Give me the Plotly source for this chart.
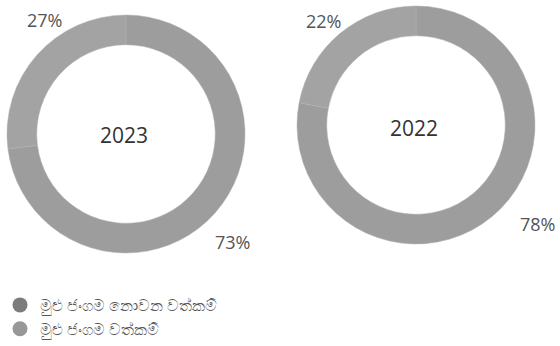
import plotly.graph_objects as go

years = ["2023", "2022"]
categories = ["මුළු ජංගම නොවන වත්කම්", "මුළු ජංගම වත්කම්"]
values_2023 = [73, 27]
values_2022 = [78, 22]
series = [values_2023, values_2022]
slice_colors = ["#9d9d9d", "#a3a3a3"]
legend_colors = ["#7c7c7c", "#979797"]

W, H = 560, 346
# pixel boxes of each donut (x0, x1, y_top, y_bottom)
boxes = [(7, 245, 15, 253), (297, 535, 6, 244)]
# label pixel positions for [big slice, small slice]
label_px = [[(232, 242), (44.5, 20)], [(537, 223.5), (323.5, 21)]]
center_px = [(123.5, 135), (413.5, 127.5)]
FONT = "Open Sans, Noto Sans, sans-serif"

fig = go.Figure()
for i, (yr, vals) in enumerate(zip(years, series)):
    x0, x1, t, b = boxes[i]
    fig.add_trace(go.Pie(
        labels=categories, values=vals, hole=0.75, sort=False,
        direction="clockwise", rotation=0,
        marker=dict(colors=slice_colors, line=dict(color="#b0b0b0", width=0.5)),
        textinfo="none", showlegend=False, hoverinfo="label+percent",
        domain=dict(x=[x0 / W, x1 / W], y=[1 - b / H, 1 - t / H]),
    ))
    for j, v in enumerate(vals):
        px, py = label_px[i][j]
        fig.add_annotation(x=px / W, y=1 - py / H, xref="paper", yref="paper",
                           xanchor="center", yanchor="middle",
                           text=f"{v}%", showarrow=False,
                           font=dict(size=18, color="#555555", family=FONT))
    cx, cy = center_px[i]
    fig.add_annotation(x=cx / W, y=1 - cy / H, xref="paper", yref="paper",
                       xanchor="center", yanchor="middle",
                       text=yr, showarrow=False,
                       font=dict(size=21, color="#333333", family=FONT))

for name, col in zip(categories, legend_colors):
    fig.add_trace(go.Scatter(x=[None], y=[None], mode="markers", name=name,
                             marker=dict(symbol="circle", size=15, color=col)))

fig.update_layout(
    width=W, height=H, margin=dict(l=0, r=0, t=0, b=0),
    paper_bgcolor="white", plot_bgcolor="white",
    xaxis=dict(visible=False), yaxis=dict(visible=False),
    legend=dict(x=0, y=1 - 288 / H, xanchor="left", yanchor="top",
                orientation="v", font=dict(size=16, color="#555555",
                family="Noto Sans, sans-serif"),
                itemwidth=30, bgcolor="rgba(0,0,0,0)", tracegroupgap=0),
)

fig.write_html("out.html", config={"displayModeBar": False},
               post_script="document.body.style.margin='0';")
